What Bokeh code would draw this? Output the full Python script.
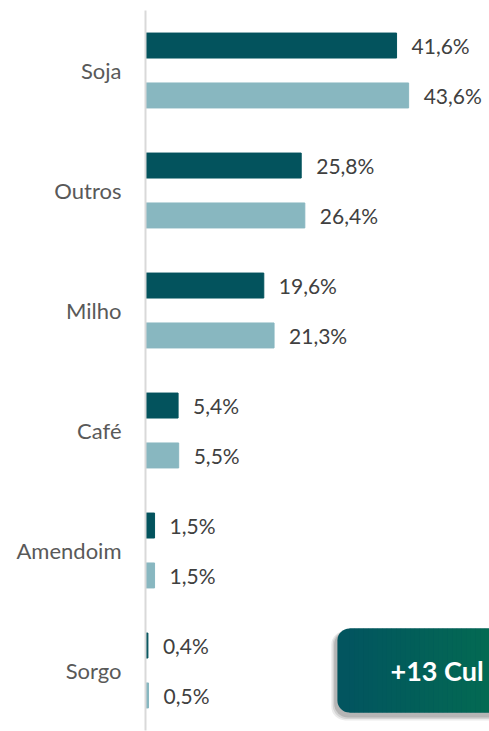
from bokeh.plotting import figure
from bokeh.models import FactorRange, Range1d, ColumnDataSource, BoxAnnotation
from bokeh.transform import dodge
from bokeh.core.properties import value
from bokeh.embed import file_html
from bokeh.resources import INLINE

categories = ["Soja", "Outros", "Milho", "Café", "Amendoim", "Sorgo"]
serie_a = [41.6, 25.8, 19.6, 5.4, 1.5, 0.4]
serie_b = [43.6, 26.4, 21.3, 5.5, 1.5, 0.5]
label_a = ["41,6%", "25,8%", "19,6%", "5,4%", "1,5%", "0,4%"]
label_b = ["43,6%", "26,4%", "21,3%", "5,5%", "1,5%", "0,5%"]
badge_text = ["+13 Cul"]

DARK = "#03535d"
LIGHT = "#88b7c0"
FONT = "Lato"

src = ColumnDataSource(dict(cat=categories, a=serie_a, b=serie_b, la=label_a, lb=label_b))

p = figure(width=489, height=731, output_backend="svg", toolbar_location=None,
           y_range=FactorRange(factors=categories[::-1]), x_range=Range1d(0, 57),
           min_border_left=145, min_border_right=0, min_border_top=10, min_border_bottom=1)
p.outline_line_color = None
p.background_fill_color = "white"
p.border_fill_color = "white"
p.grid.visible = False
p.xaxis.visible = False

ya = dodge("cat", 0.208, range=p.y_range)
yb = dodge("cat", -0.208, range=p.y_range)
p.hbar(y=ya, right="a", left=0, height=0.208, color=DARK, source=src)
p.hbar(y=yb, right="b", left=0, height=0.208, color=LIGHT, source=src)

p.text(x="a", y=ya, text="la", x_offset=15, text_baseline="middle", text_font=value(FONT),
       text_font_size="21px", text_color="#404040", source=src)
p.text(x="b", y=yb, text="lb", x_offset=15, text_baseline="middle", text_font=value(FONT),
       text_font_size="21px", text_color="#404040", source=src)

yax = p.yaxis[0]
yax.axis_line_color = "#d9d9d9"
yax.axis_line_width = 2
yax.major_tick_line_color = None
yax.minor_tick_line_color = None
yax.major_tick_out = 0
yax.major_label_standoff = 24
yax.major_label_text_font = FONT
yax.major_label_text_font_size = "22px"
yax.major_label_text_color = "#595959"

# badge: soft shadow, rounded base, gradient strips
for i, a in enumerate([0.08, 0.10, 0.14]):
    d = (3 - i) * 0.012
    p.add_layout(BoxAnnotation(left=31.5 - d * 20, right=80, bottom=0.12 - d, top=0.83,
                               border_radius=14, fill_color="#000000", fill_alpha=a,
                               line_color=None, level="underlay"))
p.add_layout(BoxAnnotation(left=31.8, right=80, bottom=0.15, top=0.85, border_radius=12,
                           fill_color="#02555f", fill_alpha=1.0, line_color=None, level="underlay"))
n = 30
x0, x1 = 33.8, 57.0
c0, c1 = (2, 85, 95), (3, 106, 82)
lefts, rights, cols = [], [], []
for k in range(n):
    t = (k + 0.5) / n
    lefts.append(x0 + (x1 - x0) * k / n)
    rights.append(x0 + (x1 - x0) * (k + 1) / n + 0.05)
    cols.append("#%02x%02x%02x" % tuple(int(round(c0[j] + (c1[j] - c0[j]) * t)) for j in range(3)))
p.quad(left=lefts, right=rights, bottom=0.15, top=0.85, fill_color=cols, line_color=None)
p.text(x=[40.6], y=["Sorgo"], text=badge_text, text_baseline="middle", text_font=value(FONT),
       text_font_style="bold", text_font_size="27px", text_color="white")

open("out.html", "w").write(file_html(p, INLINE))
